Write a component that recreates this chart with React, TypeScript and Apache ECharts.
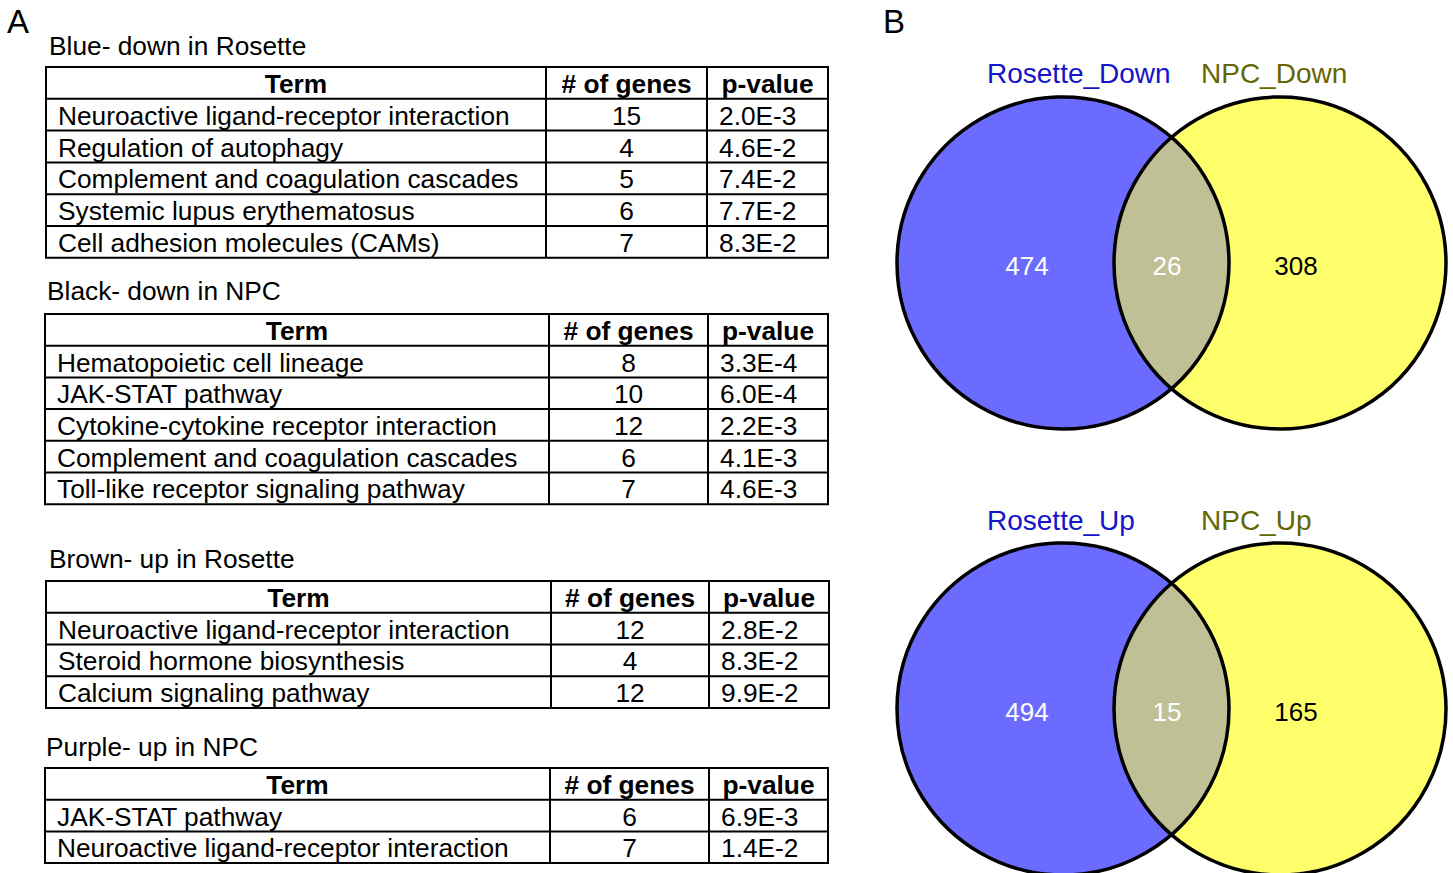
import React, { useEffect, useRef } from "react";
import * as echarts from "echarts";

const FONT = '"Liberation Sans", Arial, Helvetica, sans-serif';
const FS = 26.3;

// ---------- Data ----------
const tableHeaders = ["Term", "# of genes", "p-value"];

const blueTitle = "Blue- down in Rosette";
const blueTerms = [
  "Neuroactive ligand-receptor interaction",
  "Regulation of autophagy",
  "Complement and coagulation cascades",
  "Systemic lupus erythematosus",
  "Cell adhesion molecules (CAMs)",
];
const blueGenes = [15, 4, 5, 6, 7];
const bluePvalues = ["2.0E-3", "4.6E-2", "7.4E-2", "7.7E-2", "8.3E-2"];

const blackTitle = "Black- down in NPC";
const blackTerms = [
  "Hematopoietic cell lineage",
  "JAK-STAT pathway",
  "Cytokine-cytokine receptor interaction",
  "Complement and coagulation cascades",
  "Toll-like receptor signaling pathway",
];
const blackGenes = [8, 10, 12, 6, 7];
const blackPvalues = ["3.3E-4", "6.0E-4", "2.2E-3", "4.1E-3", "4.6E-3"];

const brownTitle = "Brown- up in Rosette";
const brownTerms = [
  "Neuroactive ligand-receptor interaction",
  "Steroid hormone biosynthesis",
  "Calcium signaling pathway",
];
const brownGenes = [12, 4, 12];
const brownPvalues = ["2.8E-2", "8.3E-2", "9.9E-2"];

const purpleTitle = "Purple- up in NPC";
const purpleTerms = ["JAK-STAT pathway", "Neuroactive ligand-receptor interaction"];
const purpleGenes = [6, 7];
const purplePvalues = ["6.9E-3", "1.4E-2"];

const vennDownLabels = ["Rosette_Down", "NPC_Down"];
const vennDownCounts = [474, 26, 308]; // left only, overlap, right only
const vennUpLabels = ["Rosette_Up", "NPC_Up"];
const vennUpCounts = [494, 15, 165];

// ---------- Layout ----------
const tableLayouts = [
  { titleX: 49, titleY: 46, left: 46, right: 828, col1: 546, col2: 707, top: 67, rowH: 31.8 },
  { titleX: 47, titleY: 291, left: 45, right: 828, col1: 549, col2: 708, top: 314, rowH: 31.7 },
  { titleX: 49, titleY: 559, left: 46, right: 829, col1: 551, col2: 709, top: 581, rowH: 31.75 },
  { titleX: 46, titleY: 747, left: 45, right: 828, col1: 550, col2: 709, top: 768, rowH: 31.7 },
];

const vennLayouts = [
  { cy: 263, labelY: 73, numY: 266 },
  { cy: 709, labelY: 520, numY: 712 },
];
const VENN = { c1x: 1063, c2x: 1280, r: 166, labelX: [987, 1201], numX: [1027, 1167, 1296] };

const COLORS = {
  blue: "#6B6BFF",
  yellow: "#FFFF6B",
  overlap: "#C0C096",
  labelBlue: "#1414C8",
  labelOlive: "#666600",
};

function textEl(text: string, x: number, y: number, opts: any = {}) {
  const align = opts.align || "left";
  return {
    type: "text",
    x,
    y,
    silent: true,
    style: {
      text,
      fill: opts.fill || "#000",
      fontSize: opts.fontSize || FS,
      fontFamily: FONT,
      fontWeight: opts.fontWeight || "normal",
      align,
      verticalAlign: "middle",
      textAlign: align,
      textVerticalAlign: "middle",
    },
  };
}

function buildTable(
  title: string,
  terms: string[],
  genes: number[],
  pvals: string[],
  L: any
) {
  const els: any[] = [];
  const nRows = terms.length + 1;
  const bottom = L.top + nRows * L.rowH;
  const line = { stroke: "#000", lineWidth: 2 };
  els.push(textEl(title, L.titleX, L.titleY));
  els.push({
    type: "rect",
    shape: { x: L.left, y: L.top, width: L.right - L.left, height: bottom - L.top },
    style: { fill: "none", ...line },
    silent: true,
  });
  for (let i = 1; i < nRows; i++) {
    const y = L.top + i * L.rowH;
    els.push({ type: "line", shape: { x1: L.left, y1: y, x2: L.right, y2: y }, style: line, silent: true });
  }
  [L.col1, L.col2].forEach((x: number) => {
    els.push({ type: "line", shape: { x1: x, y1: L.top, x2: x, y2: bottom }, style: line, silent: true });
  });
  const cy0 = L.top + L.rowH / 2 + 1;
  els.push(textEl(tableHeaders[0], (L.left + L.col1) / 2, cy0, { align: "center", fontWeight: "bold" }));
  els.push(textEl(tableHeaders[1], (L.col1 + L.col2) / 2, cy0, { align: "center", fontWeight: "bold" }));
  els.push(textEl(tableHeaders[2], (L.col2 + L.right) / 2, cy0, { align: "center", fontWeight: "bold" }));
  terms.forEach((t, i) => {
    const y = L.top + (i + 1.5) * L.rowH + 1;
    els.push(textEl(t, L.left + 12, y));
    els.push(textEl(String(genes[i]), (L.col1 + L.col2) / 2, y, { align: "center" }));
    els.push(textEl(pvals[i], L.col2 + 12, y));
  });
  return els;
}

function vennSeries(labels: string[], counts: number[], idx: number) {
  const V = vennLayouts[idx];
  return {
    type: "custom",
    coordinateSystem: "none",
    silent: true,
    data: [counts],
    renderItem: (_params: any, api: any) => {
      const a = api.value(0);
      const b = api.value(1);
      const c = api.value(2);
      const { c1x, c2x, r } = VENN;
      const cy = V.cy;
      const mx = (c1x + c2x) / 2;
      const h = Math.sqrt(r * r - ((c2x - c1x) / 2) ** 2);
      const lens = `M ${mx} ${cy - h} A ${r} ${r} 0 0 1 ${mx} ${cy + h} A ${r} ${r} 0 0 1 ${mx} ${cy - h} Z`;
      const mkText = (t: string, x: number, y: number, fill: string, size: number, align: string) => ({
        type: "text",
        x,
        y,
        style: {
          text: t,
          fill,
          fontSize: size,
          fontFamily: FONT,
          align,
          verticalAlign: "middle",
        },
      });
      return {
        type: "group",
        children: [
          { type: "circle", shape: { cx: c1x, cy, r }, style: { fill: COLORS.blue } },
          { type: "circle", shape: { cx: c2x, cy, r }, style: { fill: COLORS.yellow } },
          { type: "path", shape: { pathData: lens }, style: { fill: COLORS.overlap } },
          { type: "circle", shape: { cx: c1x, cy, r }, style: { fill: "none", stroke: "#000", lineWidth: 3.5 } },
          { type: "circle", shape: { cx: c2x, cy, r }, style: { fill: "none", stroke: "#000", lineWidth: 3.5 } },
          mkText(labels[0], VENN.labelX[0], V.labelY, COLORS.labelBlue, 28, "left"),
          mkText(labels[1], VENN.labelX[1], V.labelY, COLORS.labelOlive, 28, "left"),
          mkText(String(a), VENN.numX[0], V.numY, "#fff", 26, "center"),
          mkText(String(b), VENN.numX[1], V.numY, "#fff", 26, "center"),
          mkText(String(c), VENN.numX[2], V.numY, "#000", 26, "center"),
        ],
      };
    },
  };
}

export default function App() {
  const ref = useRef<HTMLDivElement>(null);
  useEffect(() => {
    document.body.style.margin = "0";
    if (!ref.current) return;
    const chart = echarts.init(ref.current, undefined, { renderer: "svg" });
    const graphics: any[] = [
      textEl("A", 7, 21, { fontSize: 33 }),
      textEl("B", 883, 21, { fontSize: 33 }),
      ...buildTable(blueTitle, blueTerms, blueGenes, bluePvalues, tableLayouts[0]),
      ...buildTable(blackTitle, blackTerms, blackGenes, blackPvalues, tableLayouts[1]),
      ...buildTable(brownTitle, brownTerms, brownGenes, brownPvalues, tableLayouts[2]),
      ...buildTable(purpleTitle, purpleTerms, purpleGenes, purplePvalues, tableLayouts[3]),
    ];
    chart.setOption({
      animation: false,
      backgroundColor: "#fff",
      graphic: { elements: graphics },
      series: [vennSeries(vennDownLabels, vennDownCounts, 0), vennSeries(vennUpLabels, vennUpCounts, 1)],
    });
    return () => chart.dispose();
  }, []);
  return <div ref={ref} style={{ width: 1453, height: 873 }} />;
}
